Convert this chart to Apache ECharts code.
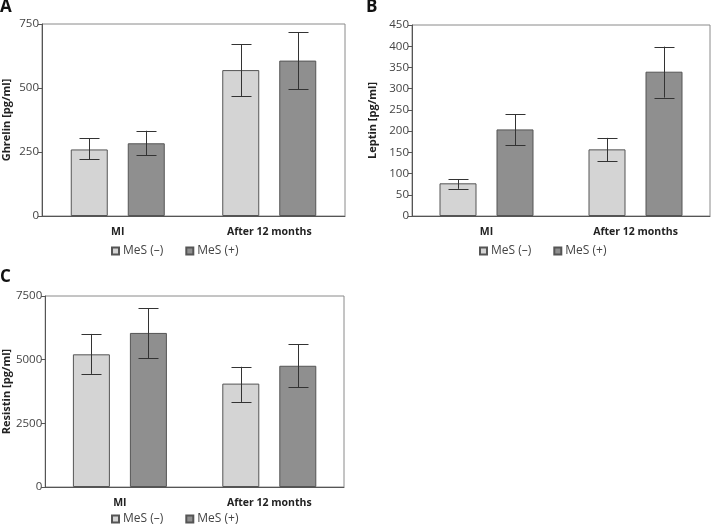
<!DOCTYPE html>
<html>
<head>
<meta charset="utf-8">
<script src="https://cdn.jsdelivr.net/npm/echarts@6/dist/echarts.min.js"></script>
<style>html,body{margin:0;padding:0;background:#fff}#c{width:713px;height:526px}</style>
</head>
<body>
<div id="c"></div>
<script>
const categories = ['MI', 'After 12 months'];
const legendNames = ['MeS (–)', 'MeS (+)'];

const ghrelinNeg = [260, 570];
const ghrelinNegLow = [221, 467];
const ghrelinNegHigh = [303, 670];
const ghrelinPos = [284, 607];
const ghrelinPosLow = [237, 495];
const ghrelinPosHigh = [333, 717];

const leptinNeg = [77, 157];
const leptinNegLow = [64, 129];
const leptinNegHigh = [86, 184];
const leptinPos = [204, 340];
const leptinPosLow = [167, 279];
const leptinPosHigh = [240, 399];

const resistinNeg = [5210, 4060];
const resistinNegLow = [4440, 3340];
const resistinNegHigh = [6010, 4720];
const resistinPos = [6050, 4760];
const resistinPosLow = [5060, 3920];
const resistinPosHigh = [7020, 5610];

const panelLetters = ['A', 'B', 'C'];
const axisNames = ['Ghrelin [pg/ml]', 'Leptin [pg/ml]', 'Resistin [pg/ml]'];
const yMax = [750, 450, 7500];
const yInterval = [250, 50, 2500];

const FONT = 'Open Sans';
const LIGHT = '#d4d4d4';
const DARK = '#8f8f8f';
const BAR_W = 37;
const BAR_GAP_PX = 20;

const grids = [
  {left: 42, top: 24, width: 303, height: 192},
  {left: 412, top: 25, width: 298, height: 191},
  {left: 43, top: 296, width: 301, height: 191}
];

const panels = [
  [ghrelinNeg, ghrelinNegLow, ghrelinNegHigh, ghrelinPos, ghrelinPosLow, ghrelinPosHigh],
  [leptinNeg, leptinNegLow, leptinNegHigh, leptinPos, leptinPosLow, leptinPosHigh],
  [resistinNeg, resistinNegLow, resistinNegHigh, resistinPos, resistinPosLow, resistinPosHigh]
];

function errData(low, high) {
  return categories.map((c, i) => [i, low[i], high[i]]);
}

function errSeries(idx, low, high, offset) {
  return {
    type: 'custom',
    xAxisIndex: idx, yAxisIndex: idx,
    silent: true, z: 10,
    encode: {x: 0, y: [1, 2]},
    data: errData(low, high),
    renderItem: function (params, api) {
      const c = api.value(0);
      const p1 = api.coord([c, api.value(1)]);
      const p2 = api.coord([c, api.value(2)]);
      const x = Math.round(p1[0] + offset) + 0.5;
      const y1 = p1[1], y2 = p2[1];
      const hw = 10;
      const st = {stroke: '#333', lineWidth: 1};
      return {
        type: 'group',
        children: [
          {type: 'line', shape: {x1: x, y1: y1, x2: x, y2: y2}, style: st},
          {type: 'line', shape: {x1: x - hw, y1: Math.round(y1) + 0.5, x2: x + hw, y2: Math.round(y1) + 0.5}, style: st},
          {type: 'line', shape: {x1: x - hw, y1: Math.round(y2) + 0.5, x2: x + hw, y2: Math.round(y2) + 0.5}, style: st}
        ]
      };
    }
  };
}

const off = (BAR_W + BAR_GAP_PX) / 2;
const series = [];
panels.forEach((d, i) => {
  series.push({
    name: legendNames[0], type: 'bar', xAxisIndex: i, yAxisIndex: i,
    data: d[0], barWidth: BAR_W, barGap: (BAR_GAP_PX / BAR_W * 100) + '%',
    itemStyle: {color: LIGHT, borderColor: '#555', borderWidth: 1}
  });
  series.push({
    name: legendNames[1], type: 'bar', xAxisIndex: i, yAxisIndex: i,
    data: d[3], barWidth: BAR_W, barGap: (BAR_GAP_PX / BAR_W * 100) + '%',
    itemStyle: {color: DARK, borderColor: '#555', borderWidth: 1}
  });
  series.push(errSeries(i, d[1], d[2], -off));
  series.push(errSeries(i, d[4], d[5], off));
});

const legendPos = [{left: 111, top: 245}, {left: 479, top: 245}, {left: 111, top: 513}];
const titlePos = [{left: 0, top: -1}, {left: 366, top: -1}, {left: 0, top: 269}];
const namePos = [30, 34, 31];

const option = {
  animation: false,
  title: panelLetters.map((t, i) => ({
    text: t, left: titlePos[i].left, top: titlePos[i].top, padding: 0,
    textStyle: {fontFamily: FONT, fontWeight: 'bold', fontSize: 17, color: '#111'}
  })),
  legend: legendPos.map(p => ({
    data: legendNames, left: p.left, top: p.top, padding: 0,
    itemWidth: 7, itemHeight: 7, itemGap: 22, icon: 'rect',
    textStyle: {fontFamily: FONT, fontSize: 12, color: '#444', padding: [0, 0, 0, -1]},
    selectedMode: false
  })),
  grid: grids.map(g => Object.assign({show: true, borderColor: '#8a8a8a', borderWidth: 1, backgroundColor: 'transparent'}, g)),
  xAxis: grids.map((g, i) => ({
    type: 'category', gridIndex: i, data: categories,
    axisLine: {lineStyle: {color: '#555'}},
    axisTick: {alignWithLabel: true, length: 4, lineStyle: {color: '#555'}},
    axisLabel: {fontFamily: FONT, fontWeight: 'bold', fontSize: 10.5, color: '#222', margin: 11}
  })),
  yAxis: grids.map((g, i) => ({
    type: 'value', gridIndex: i, min: 0, max: yMax[i], interval: yInterval[i],
    name: axisNames[i], nameLocation: 'middle', nameRotate: 90, nameGap: namePos[i],
    nameTextStyle: {fontFamily: FONT, fontWeight: 'bold', fontSize: 11, color: '#222'},
    axisLine: {show: true, lineStyle: {color: '#555'}},
    axisTick: {show: true, length: 4, lineStyle: {color: '#555'}},
    splitLine: {show: false},
    axisLabel: {fontFamily: FONT, fontSize: 11.5, color: '#444', margin: 3, formatter: v => String(v)}
  })),
  series: series
};

const chart = echarts.init(document.getElementById('c'), null, {renderer: 'canvas'});
chart.setOption(option);
</script>
</body>
</html>
